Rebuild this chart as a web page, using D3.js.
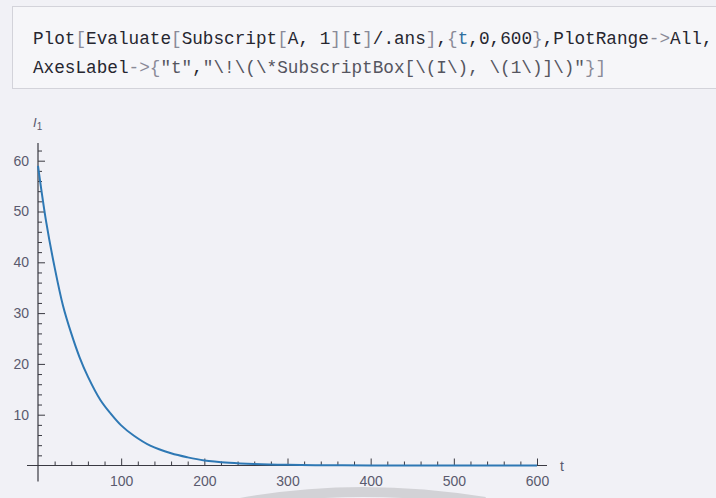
<!DOCTYPE html>
<html>
<head>
<meta charset="utf-8">
<script src="https://cdn.jsdelivr.net/npm/d3@7"></script>
<style>
  html, body { margin: 0; padding: 0; background: #f1f1f6; }
  svg { display: block; }
</style>
</head>
<body>
<svg id="chart" width="716" height="498"></svg>
<script>
// ---- data ----
const tValues = [0, 10, 20, 30, 40, 50, 60, 75, 87, 100, 115, 135, 160, 180, 200, 230, 260, 300, 350, 400, 500, 600];
const i1Values = [59, 47.8, 39, 31.5, 26, 21.3, 17.5, 12.9, 10.3, 7.9, 5.9, 3.9, 2.4, 1.6, 1.0, 0.55, 0.3, 0.13, 0.05, 0.02, 0.003, 0];
const xMajorTicks = [100, 200, 300, 400, 500, 600];
const yMajorTicks = [10, 20, 30, 40, 50, 60];
const xLabel = "t";
const yLabelMain = "I";
const yLabelSub = "1";
const codeLine1 = [
  ["Plot", "k"], ["[", "b"], ["Evaluate", "k"], ["[", "b"], ["Subscript", "k"], ["[", "b"], ["A, 1", "k"], ["]", "b"],
  ["[", "b"], ["t", "k"], ["]", "b"], ["/.ans", "k"], ["]", "b"], [",", "k"], ["{", "b"], ["t", "v"], [",0,600", "k"], ["}", "b"],
  [",PlotRange", "k"], ["->", "b"], ["All,", "k"]
];
const codeLine2 = [
  ["AxesLabel", "k"], ["->", "b"], ["{", "b"], ["\"t\"", "s"], [",", "k"],
  ["\"\\!\\(\\*SubscriptBox[\\(I\\), \\(1\\)]\\)\"", "s"], ["}", "b"], ["]", "b"]
];

const svg = d3.select("#chart");

// watermark arc at the bottom
svg.append("path")
  .attr("d", "M 225 506 Q 350 480 485 502")
  .attr("fill", "none").attr("stroke", "#d2d2d6").attr("stroke-width", 10);

// code cell
svg.append("rect").attr("x", 12.5).attr("y", 6.5).attr("width", 720).attr("height", 82)
  .attr("fill", "#f6f6f9").attr("stroke", "#d3d3da");
const colors = { k: "#262630", b: "#8a8a98", v: "#2f6f9f", s: "#555560" };
function codeLine(tokens, y) {
  const t = svg.append("text").attr("x", 33).attr("y", y)
    .attr("font-family", "'Liberation Mono', 'DejaVu Sans Mono', monospace")
    .attr("font-size", 17.7);
  tokens.forEach(([s, c]) => t.append("tspan").attr("fill", colors[c]).text(s));
}
codeLine(codeLine1, 44);
codeLine(codeLine2, 73);

// scales
const x = d3.scaleLinear().domain([0, 600]).range([38, 537]);
const y = d3.scaleLinear().domain([0, 60]).range([465.5, 160.7]);

const axisColor = "#3a3a42";
const labelColor = "#5a5a6e";
const font = "'Liberation Sans', Arial, sans-serif";

// axis lines (Mathematica-like extents)
svg.append("line").attr("x1", x(0) - 11).attr("x2", x(600) + 10)
  .attr("y1", y(0)).attr("y2", y(0)).attr("stroke", axisColor).attr("stroke-width", 1.2);
svg.append("line").attr("x1", x(0)).attr("x2", x(0))
  .attr("y1", y(0) + 16).attr("y2", y(63.5)).attr("stroke", axisColor).attr("stroke-width", 1.2);

// x axis: major + minor ticks pointing up
const xMinor = d3.range(20, 601, 20).filter(v => v % 100 !== 0);
const gx = svg.append("g").attr("transform", `translate(0,${y(0)})`);
gx.call(d3.axisBottom(x).tickValues(xMajorTicks).tickSizeInner(-7).tickSizeOuter(0).tickPadding(11).tickFormat(d3.format("d")));
const gxm = svg.append("g").attr("transform", `translate(0,${y(0)})`);
gxm.call(d3.axisBottom(x).tickValues(xMinor).tickSizeInner(-4).tickSizeOuter(0).tickFormat(""));

// y axis: ticks pointing right
const yMinor = d3.range(2, 63, 2).filter(v => v % 10 !== 0);
const gy = svg.append("g").attr("transform", `translate(${x(0)},0)`);
gy.call(d3.axisLeft(y).tickValues(yMajorTicks).tickSizeInner(-7).tickSizeOuter(0).tickPadding(9).tickFormat(d3.format("d")));
const gym = svg.append("g").attr("transform", `translate(${x(0)},0)`);
gym.call(d3.axisLeft(y).tickValues(yMinor).tickSizeInner(-4).tickSizeOuter(0).tickFormat(""));

[gx, gxm, gy, gym].forEach(g => {
  g.select(".domain").remove();
  g.selectAll(".tick line").attr("stroke", axisColor).attr("stroke-width", 1);
  g.selectAll(".tick text").attr("fill", labelColor).attr("font-family", font).attr("font-size", 14);
});

// axis labels
svg.append("text").attr("x", x(600) + 23).attr("y", y(0) + 5)
  .attr("font-family", font).attr("font-size", 14).attr("fill", labelColor).text(xLabel);
const yl = svg.append("text").attr("x", x(0) - 5).attr("y", 127)
  .attr("font-family", font).attr("font-size", 13).attr("fill", labelColor);
yl.append("tspan").attr("font-style", "italic").text(yLabelMain);
yl.append("tspan").attr("font-size", 10).attr("dy", 3).text(yLabelSub);

// curve
const pts = tValues.map((t, i) => [t, i1Values[i]]);
svg.append("path")
  .datum(pts)
  .attr("fill", "none")
  .attr("stroke", "#2e78b4")
  .attr("stroke-width", 2)
  .attr("d", d3.line().x(d => x(d[0])).y(d => y(d[1])).curve(d3.curveCatmullRom.alpha(0.5)));
</script>
</body>
</html>
